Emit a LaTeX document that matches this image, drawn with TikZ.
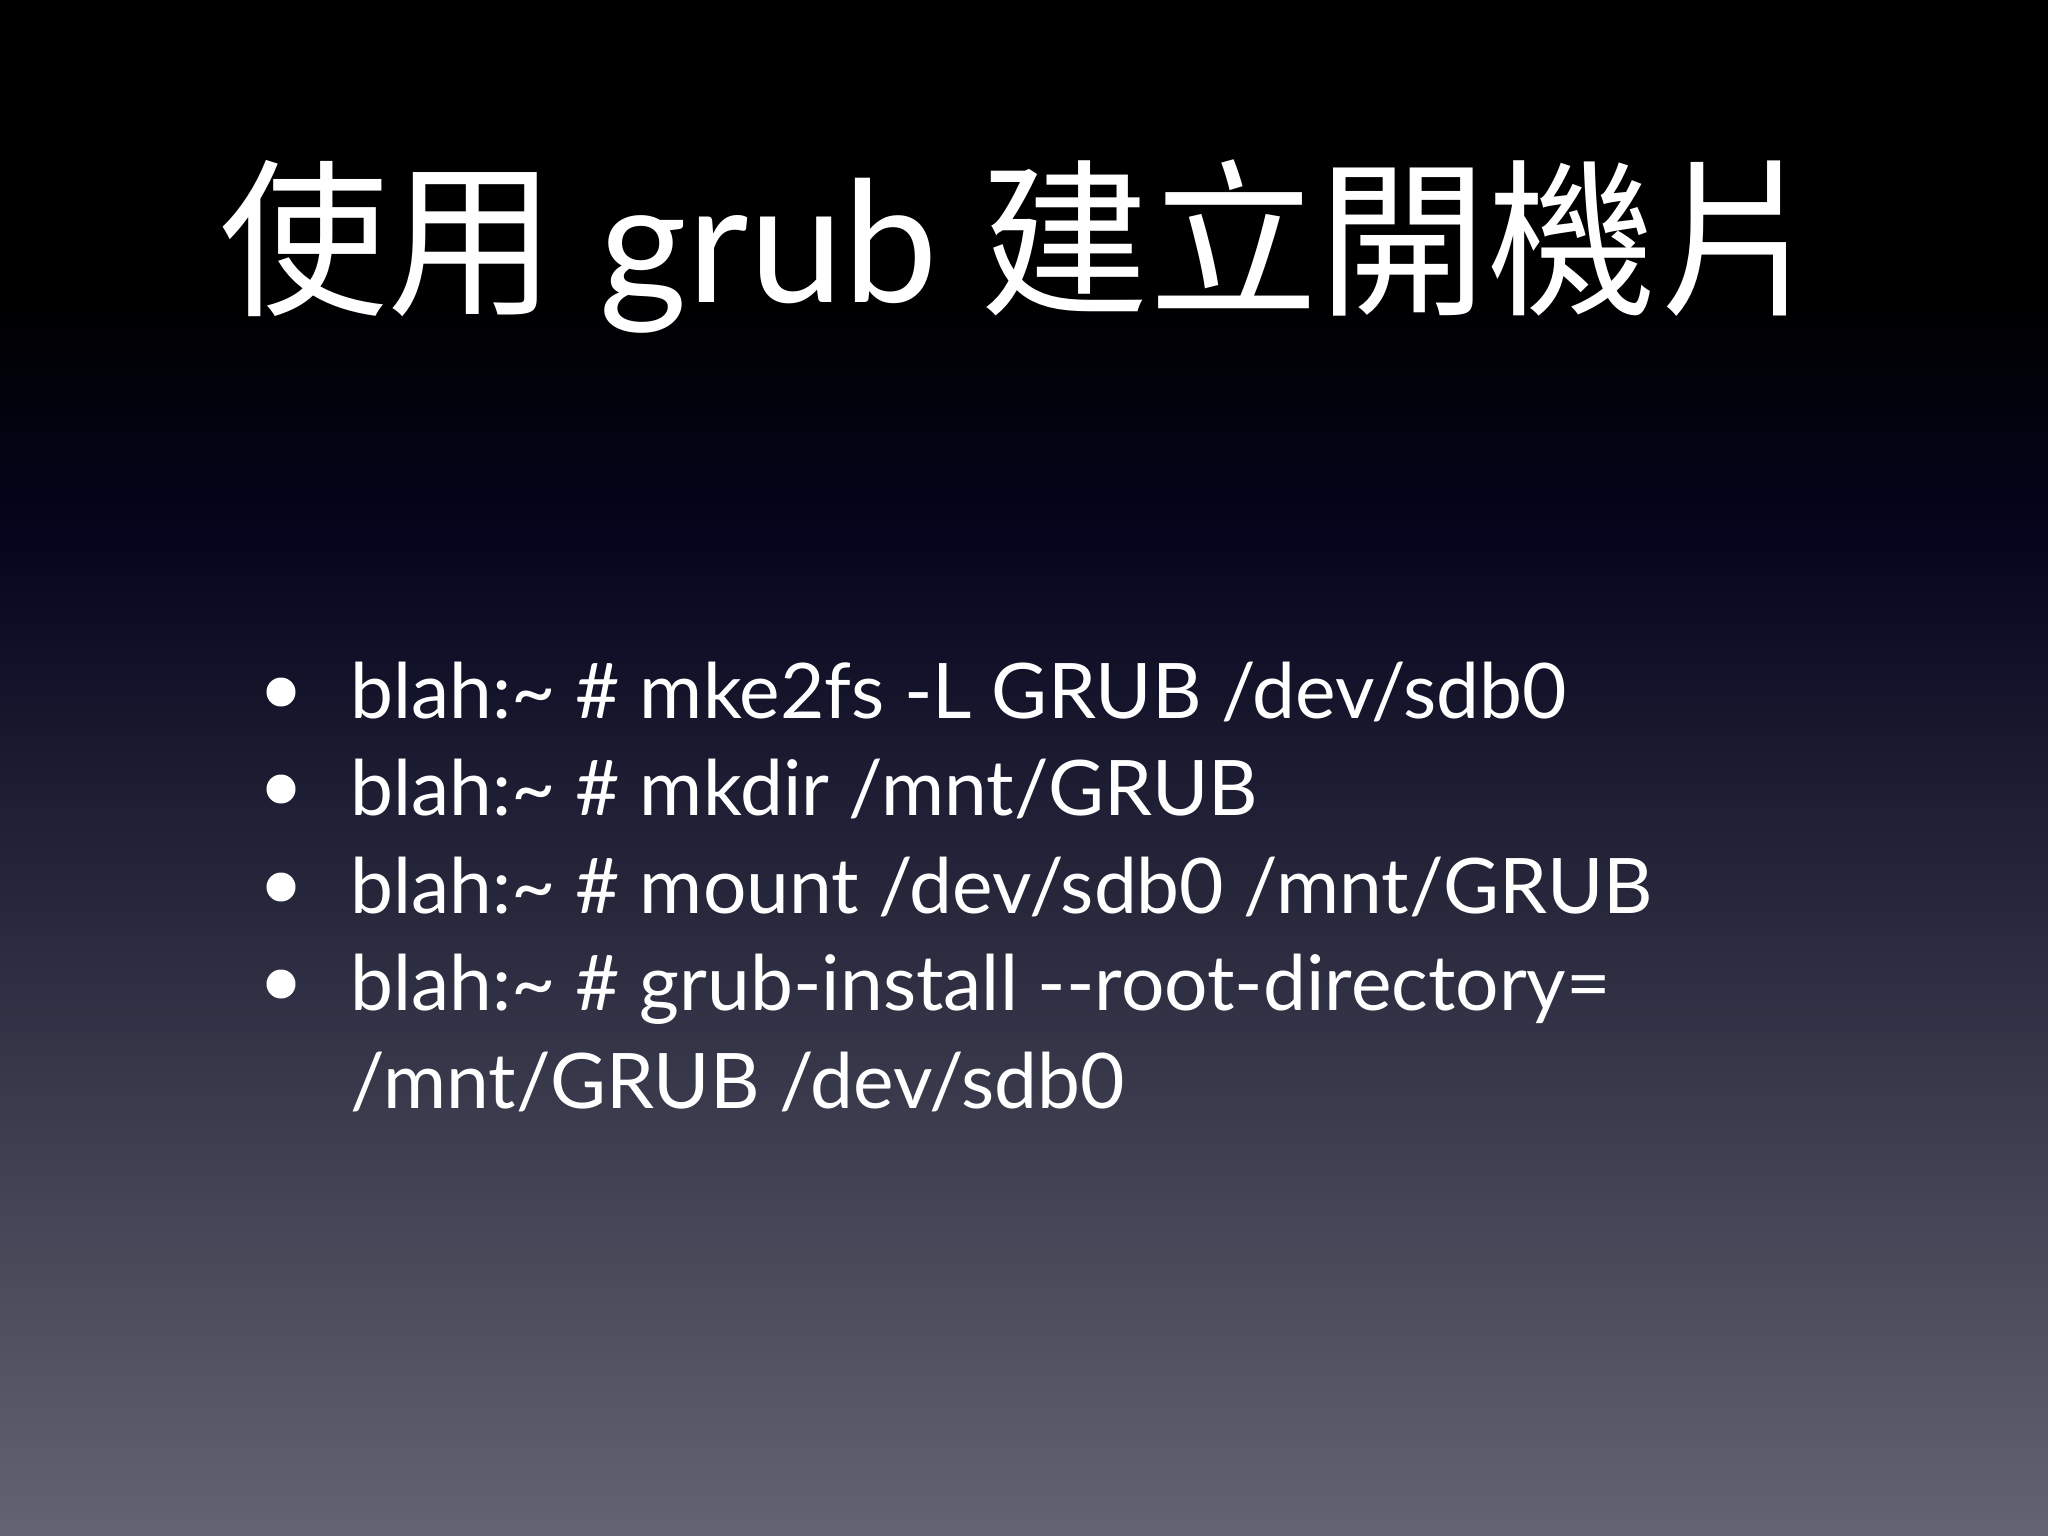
\documentclass[tikz,border=0pt]{standalone}
\usepackage{fontspec}
\setmainfont{Lato}
\newfontfamily\cjk{Noto Sans CJK TC}
\definecolor{bgtop}{HTML}{000000}
\definecolor{bgmid}{HTML}{05051E}
\definecolor{bgbot}{HTML}{636371}
\begin{document}
\begin{tikzpicture}[x=0.01cm,y=-0.01cm,
  title/.style={text=white,font=\fontsize{48}{56}\selectfont,anchor=base,inner sep=0},
  item/.style={text=white,font=\fontsize{21.8}{26}\selectfont,anchor=base west,inner sep=0},
  dot/.style={fill=white,circle,inner sep=0,minimum size=0.29cm}]
\useasboundingbox (0,0) rectangle (2048,1536);
\fill[bgtop] (0,0) rectangle (2048,300);
\shade[top color=bgtop,bottom color=bgmid] (0,299) rectangle (2048,540);
\shade[top color=bgmid,bottom color=bgbot] (0,539) rectangle (2048,1536);
\node[title] (t) at (1022,302) {{\cjk 使用} grub {\cjk 建立開機片}};
\foreach \i/\y/\txt in {1/718/{blah:\textasciitilde\ \# mke2fs -L GRUB /dev/sdb0},
  2/815/{blah:\textasciitilde\ \# mkdir /mnt/GRUB},
  3/913/{blah:\textasciitilde\ \# mount /dev/sdb0 /mnt/GRUB},
  4/1010/{blah:\textasciitilde\ \# grub-install -{}-root-directory=}}{
  \node[item] (l\i) at (350,\y) {\txt};
  \node[dot] (d\i) at (281,\y-26) {};
}
\node[item] (l5) at (350,1108) {/mnt/GRUB /dev/sdb0};
\end{tikzpicture}
\end{document}
